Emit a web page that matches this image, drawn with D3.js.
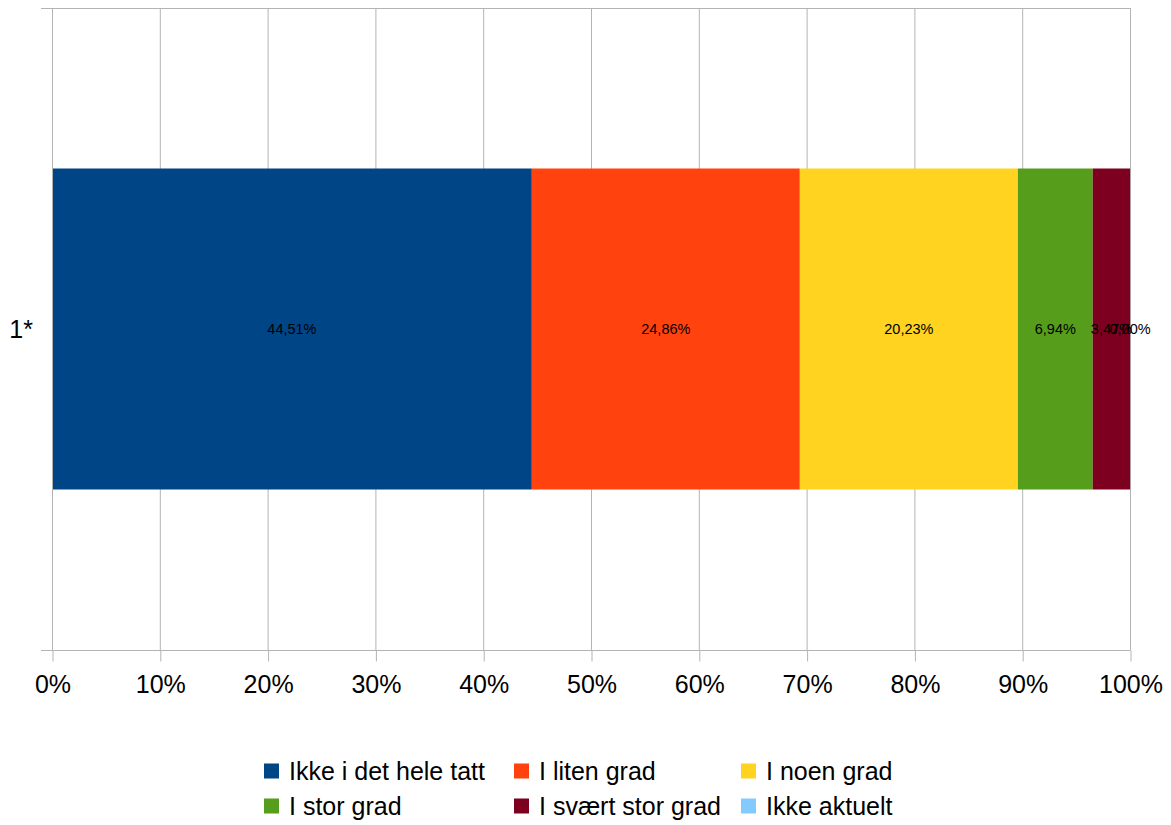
<!DOCTYPE html>
<html>
<head>
<meta charset="utf-8">
<script src="https://cdn.jsdelivr.net/npm/d3@7"></script>
<style>
  html, body { margin: 0; padding: 0; background: #fff; }
  svg { display: block; font-family: "Liberation Sans", Arial, sans-serif; }
</style>
</head>
<body>
<svg id="chart" width="1171" height="825"></svg>
<script>
// Stacked 100% bar: share of answers per response option
const categories = ["1*"];
const seriesNames = ["Ikke i det hele tatt", "I liten grad", "I noen grad", "I stor grad", "I svært stor grad", "Ikke aktuelt"];
const seriesValues = [44.51, 24.86, 20.23, 6.94, 3.47, 0.00];
const seriesColors = ["#004586", "#ff420e", "#ffd320", "#579d1c", "#7e0021", "#83caff"];
const tickValues = [0, 10, 20, 30, 40, 50, 60, 70, 80, 90, 100];

(function () {
  const svg = d3.select("#chart");
  const plotLeft = 52, plotRight = 1130, plotTop = 8, plotBottom = 650;
  const gridColor = "#b3b3b3";

  const x = d3.scaleLinear().domain([0, 100]).range([plotLeft, plotRight]);
  const y = d3.scaleBand().domain(categories).range([plotTop, plotBottom]).paddingInner(0).paddingOuter(0.5);

  // vertical grid lines
  svg.append("g").selectAll("line").data(tickValues).join("line")
    .attr("x1", d => x(d) + 0.5).attr("x2", d => x(d) + 0.5)
    .attr("y1", plotTop).attr("y2", plotBottom)
    .attr("stroke", gridColor).attr("stroke-width", 1);

  // top frame line
  svg.append("line")
    .attr("x1", plotLeft - 11).attr("x2", plotRight + 0.5)
    .attr("y1", plotTop + 0.5).attr("y2", plotTop + 0.5)
    .attr("stroke", gridColor);

  // stacked segments
  const row = { cat: categories[0] };
  seriesNames.forEach((n, i) => { row[n] = seriesValues[i]; });
  const stacked = d3.stack().keys(seriesNames)([row]);

  const segs = svg.append("g");
  stacked.forEach((layer, i) => {
    layer.forEach(d => {
      segs.append("rect")
        .attr("x", x(d[0]))
        .attr("y", y(d.data.cat))
        .attr("width", Math.max(0, x(d[1]) - x(d[0])))
        .attr("height", y.bandwidth())
        .attr("fill", seriesColors[i]);
    });
  });

  // value labels centred in each segment
  const labels = svg.append("g")
    .attr("font-size", "14.5px").attr("fill", "#000").attr("text-anchor", "middle");
  stacked.forEach((layer, i) => {
    layer.forEach(d => {
      labels.append("text")
        .attr("x", x((d[0] + d[1]) / 2))
        .attr("y", y(d.data.cat) + y.bandwidth() / 2)
        .attr("dy", "0.35em")
        .text(seriesValues[i].toFixed(2).replace(".", ",") + "%");
    });
  });

  // bottom axis
  const xAxis = d3.axisBottom(x).tickValues(tickValues).tickSize(11).tickPadding(14)
    .tickFormat(d => d + "%");
  const gx = svg.append("g").attr("transform", `translate(0.5,${plotBottom + 0.5})`).call(xAxis);
  gx.select(".domain").remove();
  gx.selectAll(".tick line").attr("stroke", gridColor);
  gx.selectAll(".tick text").attr("font-size", "25px").attr("fill", "#000")
    .attr("font-family", "'Liberation Sans', Arial, sans-serif");
  svg.append("line")
    .attr("x1", plotLeft - 11).attr("x2", plotRight + 0.5)
    .attr("y1", plotBottom + 0.5).attr("y2", plotBottom + 0.5)
    .attr("stroke", gridColor);

  // left axis
  svg.append("line")
    .attr("x1", plotLeft + 0.5).attr("x2", plotLeft + 0.5)
    .attr("y1", plotTop).attr("y2", plotBottom + 0.5)
    .attr("stroke", gridColor);
  svg.append("g").selectAll("text").data(categories).join("text")
    .attr("x", 33)
    .attr("y", d => y(d) + y.bandwidth() / 2)
    .attr("dy", "0.35em")
    .attr("text-anchor", "end")
    .attr("font-size", "25px")
    .text(d => d);

  // legend, three columns by two rows
  const legendCols = [264, 514, 741];
  const legendRows = [771, 806];
  const legend = svg.append("g");
  seriesNames.forEach((name, i) => {
    const cx = legendCols[i % 3], cy = legendRows[Math.floor(i / 3)];
    legend.append("rect")
      .attr("x", cx).attr("y", cy - 7.5)
      .attr("width", 15).attr("height", 15)
      .attr("fill", seriesColors[i]);
    legend.append("text")
      .attr("x", cx + 25).attr("y", cy)
      .attr("dy", "0.35em")
      .attr("font-size", "25px")
      .text(name);
  });
})();
</script>
</body>
</html>
